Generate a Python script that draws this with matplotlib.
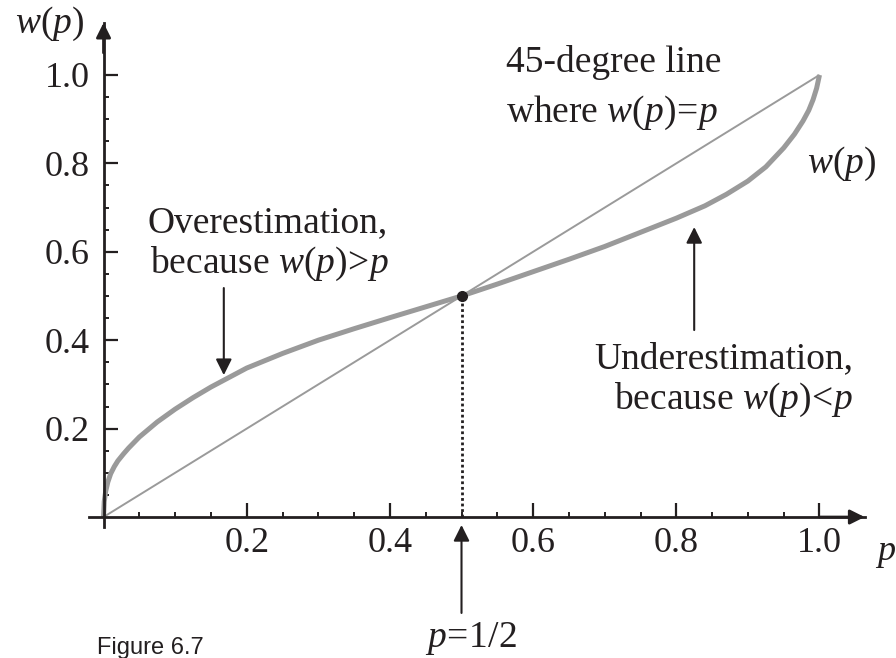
import matplotlib
matplotlib.use("Agg")
import matplotlib.pyplot as plt

plt.rcParams['font.family'] = ['Liberation Serif', 'DejaVu Serif']
plt.rcParams['mathtext.fontset'] = 'custom'
plt.rcParams['mathtext.rm'] = 'Liberation Serif'
plt.rcParams['mathtext.it'] = 'Liberation Serif:italic'

# values
p_vals = [0, 0.001, 0.003, 0.006, 0.01, 0.015, 0.02, 0.028, 0.035, 0.05, 0.075,
          0.1, 0.125, 0.15, 0.2, 0.25, 0.3, 0.35, 0.4, 0.45, 0.5,
          0.55, 0.6, 0.65, 0.7, 0.75, 0.8, 0.84, 0.87, 0.9, 0.925,
          0.95, 0.965, 0.977, 0.985, 0.991, 0.996, 1.0]
w_vals = [0, 0.035, 0.058, 0.079, 0.098, 0.114, 0.127, 0.143, 0.156, 0.181, 0.215,
          0.244, 0.270, 0.294, 0.337, 0.370, 0.400, 0.426, 0.451, 0.4755, 0.5,
          0.527, 0.555, 0.583, 0.612, 0.644, 0.676, 0.704, 0.730, 0.760, 0.792,
          0.835, 0.866, 0.896, 0.920, 0.944, 0.970, 1.0]
diag = [0, 1]
mid_point = (0.5, 0.5)

major_ticks = [0.2, 0.4, 0.6, 0.8, 1.0]
major_labels = ['0.2', '0.4', '0.6', '0.8', '1.0']
minor_ticks = [0.05, 0.1, 0.15, 0.25, 0.3, 0.35, 0.45, 0.5, 0.55,
               0.65, 0.7, 0.75, 0.85, 0.9, 0.95]

W, H = 896, 658
FS = 27
GREY = '#9a9a9a'
INK = '#231f20'

fig = plt.figure(figsize=(W / 100, H / 100), dpi=100)
ax = fig.add_axes([89.2 / W, 130.8 / H, (864.6 - 89.2) / W, 504.4 / H])
ax.set_xlim(-0.02, 1.063)
ax.set_ylim(-0.023, 1.118)


def figtxt(x, y, s, size=FS, **kw):
    # x, y in pixels from the top-left corner
    fig.text(x / W, 1 - y / H, s, fontsize=size, color=INK, va='baseline', **kw)


# axes
for side in ['top', 'right']:
    ax.spines[side].set_visible(False)
ax.spines['left'].set_position(('data', 0))
ax.spines['bottom'].set_position(('data', 0))
for side in ['left', 'bottom']:
    ax.spines[side].set_linewidth(2)
    ax.spines[side].set_color(INK)

ax.set_xticks(major_ticks, major_labels)
ax.set_yticks(major_ticks, major_labels)
ax.set_xticks(minor_ticks, minor=True)
ax.set_yticks(minor_ticks, minor=True)
ax.tick_params(which='major', direction='in', length=10, width=1.6, colors=INK, labelsize=26)
ax.tick_params(which='minor', direction='in', length=3.5, width=1.4, colors=INK)
ax.tick_params(axis='x', which='major', pad=7)
ax.tick_params(axis='y', which='major', pad=10)

head = dict(arrowstyle='-|>', color=INK, lw=2, mutation_scale=22, shrinkA=0, shrinkB=0)
ax.annotate('', xy=(1.063, 0), xytext=(1.0, 0), arrowprops=head, annotation_clip=False)
ax.annotate('', xy=(0, 1.118), xytext=(0, 1.05), arrowprops=head, annotation_clip=False)

# lines
ax.plot(diag, diag, color=GREY, lw=1.4, solid_capstyle='butt', clip_on=False)
ax.plot(p_vals, w_vals, color=GREY, lw=3.6, solid_capstyle='butt',
        solid_joinstyle='round', clip_on=False)
ax.plot([mid_point[0], mid_point[0]], [0, mid_point[1]], color=INK, lw=2, ls=(0, (1, 1)))
ax.plot(*mid_point, 'o', color=INK, ms=7, zorder=5)

# pointer arrows
arr = dict(arrowstyle='-|>', color=INK, lw=1.5, mutation_scale=24, shrinkA=0, shrinkB=0)
ax.annotate('', xy=(0.168, 0.321), xytext=(0.168, 0.518), arrowprops=arr)
ax.annotate('', xy=(0.825, 0.656), xytext=(0.825, 0.423), arrowprops=arr)
ax.annotate('', xy=(0.5, -0.018), xytext=(0.5, -0.217), arrowprops=arr, annotation_clip=False)

# text
figtxt(15, 33, '$w(p)$')
figtxt(875, 560, '$p$', size=26)
figtxt(506, 72, '45-degree line')
figtxt(506, 122, 'where $w(p)\\!=\\!p$')
figtxt(807, 173, '$w(p)$')
figtxt(147, 232, 'Overestimation,')
figtxt(150, 273, 'because $w(p)\\!>\\!p$')
figtxt(853, 368, 'Underestimation,', ha='right')
figtxt(853, 409, 'because $w(p)\\!<\\!p$', ha='right')
figtxt(425, 647, '$p\\!=\\!$1/2')
figtxt(97, 654, 'Figure 6.7', size=17, family=['Liberation Sans', 'DejaVu Sans'])

fig.savefig('out.png', dpi=100)
